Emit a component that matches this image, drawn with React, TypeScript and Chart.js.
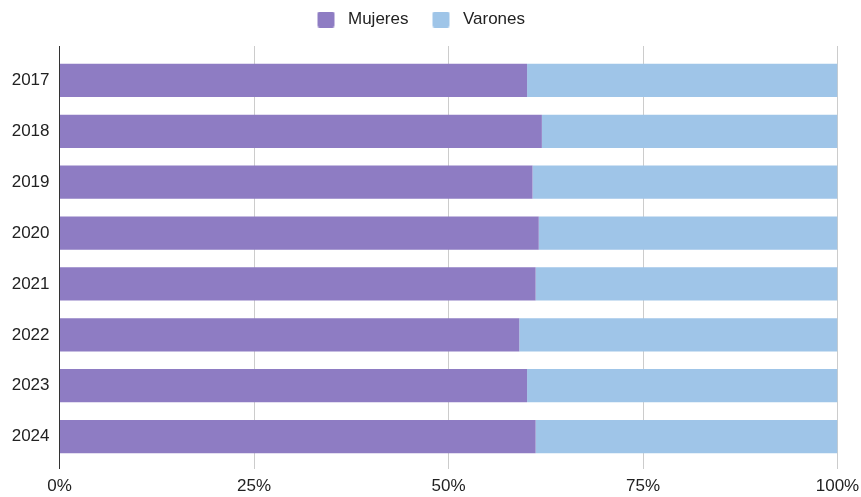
import React, { useEffect, useRef } from 'react';
import { Chart, registerables } from 'chart.js';

Chart.register(...registerables);

const years = ['2017', '2018', '2019', '2020', '2021', '2022', '2023', '2024'];
const mujeres = [60.1, 62.0, 60.8, 61.6, 61.2, 59.1, 60.1, 61.2];
const varones = [39.9, 38.0, 39.2, 38.4, 38.8, 40.9, 39.9, 38.8];
const seriesNames = ['Mujeres', 'Varones'];
const seriesColors = ['#8e7cc3', '#9fc5e8'];
const xMin = 0;
const xMax = 100;
const xStep = 25;

const FONT = '"Liberation Sans", Arial, sans-serif';
const TEXT = '#222222';

function makeSwatch(color: string): HTMLCanvasElement {
  const c = document.createElement('canvas');
  c.width = 36;
  c.height = 16;
  const ctx = c.getContext('2d')!;
  ctx.fillStyle = color;
  ctx.beginPath();
  if ((ctx as any).roundRect) (ctx as any).roundRect(14, 0, 17, 16, 2);
  else ctx.rect(14, 0, 17, 16);
  ctx.fill();
  return c;
}

const legendSpacer = {
  id: 'legendSpacer',
  beforeInit(chart: any) {
    const lg = chart.legend;
    if (!lg) return;
    const orig = lg.fit;
    lg.fit = function () {
      orig.call(this);
      this.height += 8;
    };
  },
  afterLayout(chart: any) {
    const lg = chart.legend;
    if (!lg) return;
    lg.left -= 4.5;
    lg.right -= 4.5;
  },
};

export default function App() {
  const ref = useRef<HTMLCanvasElement | null>(null);

  useEffect(() => {
    if (!ref.current) return;
    const swatches = seriesColors.map(makeSwatch);
    const gridColor = (ctx: any) => (ctx.tick && ctx.tick.value === 0 ? '#333333' : '#cccccc');
    const chart = new Chart(ref.current, {
      type: 'bar',
      data: {
        labels: years,
        datasets: [
          {
            label: seriesNames[0],
            data: mujeres,
            backgroundColor: seriesColors[0],
            borderWidth: 0,
            categoryPercentage: 1,
            barPercentage: 0.655,
          },
          {
            label: seriesNames[1],
            data: varones,
            backgroundColor: seriesColors[1],
            borderWidth: 0,
            categoryPercentage: 1,
            barPercentage: 0.655,
          },
        ],
      },
      options: {
        indexAxis: 'y',
        animation: false,
        responsive: true,
        maintainAspectRatio: false,
        layout: { padding: { top: 1, left: 0, right: 23.5, bottom: 0.6 } },
        plugins: {
          tooltip: { enabled: false },
          legend: {
            position: 'top',
            align: 'center',
            labels: {
              usePointStyle: true,
              pointStyleWidth: 36,
              boxHeight: 17,
              padding: 10,
              color: TEXT,
              font: { family: FONT, size: 17 },
              generateLabels: (c: any) => {
                const items = Chart.defaults.plugins.legend.labels.generateLabels(c);
                return items.map((it: any, i: number) => ({ ...it, pointStyle: swatches[i] }));
              },
            },
          },
        },
        scales: {
          x: {
            type: 'linear',
            position: 'bottom',
            stacked: true,
            min: xMin,
            max: xMax,
            ticks: {
              stepSize: xStep,
              callback: (v: any) => `${v}%`,
              color: TEXT,
              font: { family: FONT, size: 17 },
              padding: 7,
              maxRotation: 0,
            },
            grid: { color: gridColor, tickLength: 7, drawTicks: true, lineWidth: 1 },
            border: { display: false },
            afterFit: (scale: any) => {
              scale.height = 34.4;
              scale.paddingRight = 0;
            },
          },
          x2: {
            type: 'linear',
            position: 'top',
            min: xMin,
            max: xMax,
            ticks: { stepSize: xStep, display: false },
            grid: { color: gridColor, tickLength: 9, drawTicks: true, drawOnChartArea: false },
            border: { display: false },
            afterFit: (scale: any) => {
              scale.paddingRight = 0;
            },
          },
          y: {
            type: 'category',
            stacked: true,
            offset: true,
            ticks: {
              color: TEXT,
              font: { family: FONT, size: 17 },
              padding: 10,
            },
            grid: { display: false, drawTicks: false },
            border: { display: false },
            afterFit: (scale: any) => {
              scale.width = 59.5;
            },
          },
        },
      },
      plugins: [legendSpacer],
    } as any);
    return () => chart.destroy();
  }, []);

  return (
    <div style={{ position: 'fixed', left: 0, top: 0, width: 861, height: 497 }}>
      <canvas ref={ref} />
    </div>
  );
}
